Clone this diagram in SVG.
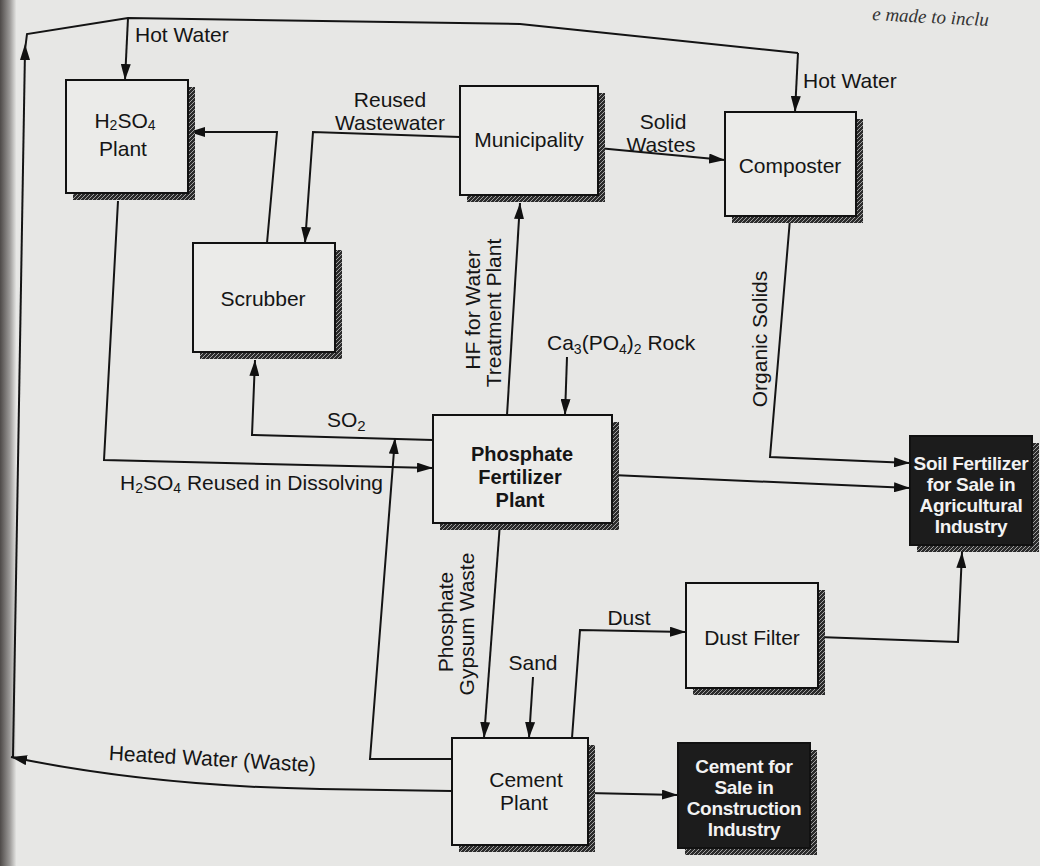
<svg xmlns="http://www.w3.org/2000/svg" width="1040" height="866" viewBox="0 0 1040 866">
<defs>
<style>
.t{font-family:"Liberation Sans",Arial,sans-serif;font-size:21px;fill:#151515}
.b{font-family:"Liberation Sans",Arial,sans-serif;font-size:20px;font-weight:bold;fill:#151515}
.w{font-family:"Liberation Sans",Arial,sans-serif;font-size:19px;font-weight:bold;fill:#f2f2f2;letter-spacing:-0.3px}
.box{fill:#ebebe9;stroke:#111;stroke-width:2}
.dark{fill:#1c1c1c;stroke:#111;stroke-width:2}
.sh{fill:url(#hatch)}
.ln{fill:none;stroke:#141414;stroke-width:2;stroke-linejoin:miter}
.ar{marker-end:url(#ah)}
</style>
<pattern id="hatch" width="4" height="4" patternUnits="userSpaceOnUse">
<rect width="4" height="4" fill="#2b2b2b"/>
<path d="M0,4 L4,0" stroke="#a0a0a0" stroke-width="1"/>
</pattern>
<marker id="ah" viewBox="0 0 16 10" refX="16" refY="5" markerWidth="16" markerHeight="10" markerUnits="userSpaceOnUse" orient="auto">
<path d="M0,0 L16,5 L0,10 z" fill="#111"/>
</marker>
<linearGradient id="gut" x1="0" y1="0" x2="1" y2="0">
<stop offset="0" stop-color="#4e4a48"/>
<stop offset="0.6" stop-color="#9a9896"/>
<stop offset="1" stop-color="#e2e2e0"/>
</linearGradient>
</defs>
<rect width="1040" height="866" fill="#e7e7e5"/>
<rect x="0" y="0" width="16" height="866" fill="url(#gut)"/>
<text x="872" y="20" transform="rotate(3 872 20)" style="font-family:'Liberation Serif',serif;font-style:italic;font-size:19px;fill:#333">e made to inclu</text>

<g id="connectors">
<path class="ln" d="M13,757 L25,50"/>
<path d="M25,44 L20,60 L30,60 z" fill="#111"/>
<path class="ln" d="M25,50 L27,34 L128,18 L520,24 L798,53"/>
<path class="ln ar" d="M128,18 L125,80"/>
<path class="ln ar" d="M798,53 L795,112"/>
<path class="ln ar" d="M267,243 L277,132 L189,132"/>
<path class="ln ar" d="M460,137 L313,132 L305,243"/>
<path class="ln ar" d="M598,148 L725,160"/>
<path class="ln ar" d="M790,219 L770,457 L910,463"/>
<path class="ln ar" d="M507,415 L520,203"/>
<path class="ln ar" d="M567,357 L565,415"/>
<path class="ln ar" d="M433,440 L252,435 L255,360"/>
<path class="ln ar" d="M118,201 L104,460 L433,468"/>
<path class="ln ar" d="M612,475 L910,488"/>
<path class="ln ar" d="M500,523 L484,738"/>
<path class="ln ar" d="M452,759 L370,759 L395,438"/>
<path class="ln ar" d="M533,677 L529,738"/>
<path class="ln ar" d="M572,738 L580,630 L686,632"/>
<path class="ln ar" d="M818,637 L958,642 L962,552"/>
<path class="ln ar" d="M588,793 L678,795"/>
<path class="ln ar" d="M452,791 L320,789 Q150,786 11,757"/>
</g>

<g id="labels">
<text class="t" x="135" y="42">Hot Water</text>
<text class="t" x="803" y="88">Hot Water</text>
<text class="t" x="390" y="107" text-anchor="middle">Reused</text>
<text class="t" x="390" y="130" text-anchor="middle">Wastewater</text>
<text class="t" x="663" y="129" text-anchor="middle">Solid</text>
<text class="t" x="661" y="152" text-anchor="middle">Wastes</text>
<text class="t" transform="translate(480,310) rotate(-90)" text-anchor="middle">HF for Water</text>
<text class="t" transform="translate(501,313) rotate(-90)" text-anchor="middle">Treatment Plant</text>
<text class="t" transform="translate(767,339) rotate(-90)" text-anchor="middle">Organic Solids</text>
<text class="t" x="547" y="350">Ca<tspan font-size="14" dy="4">3</tspan><tspan dy="-4">(PO</tspan><tspan font-size="14" dy="4">4</tspan><tspan dy="-4">)</tspan><tspan font-size="14" dy="4">2</tspan><tspan dy="-4"> Rock</tspan></text>
<text class="t" x="327" y="427">SO<tspan font-size="15" dy="4">2</tspan></text>
<text class="t" x="120" y="490">H<tspan font-size="14" dy="3">2</tspan><tspan dy="-3">SO</tspan><tspan font-size="14" dy="3">4</tspan><tspan dy="-3"> Reused in Dissolving</tspan></text>
<text class="t" transform="translate(453,622) rotate(-90)" text-anchor="middle">Phosphate</text>
<text class="t" transform="translate(474,624) rotate(-90)" text-anchor="middle">Gypsum Waste</text>
<text class="t" x="533" y="670" text-anchor="middle">Sand</text>
<text class="t" x="629" y="625" text-anchor="middle">Dust</text>
<text class="t" x="108" y="766" transform="rotate(3.3 212 770)">Heated Water (Waste)</text>
</g>

<g id="h2so4-plant">
<rect class="sh" x="73" y="87" width="122" height="113"/>
<rect class="box" x="66" y="80" width="122" height="113"/>
<text class="t" x="125" y="128" text-anchor="middle">H<tspan font-size="14" dy="2">2</tspan><tspan dy="-2">SO</tspan><tspan font-size="14" dy="2">4</tspan></text>
<text class="t" x="123" y="156" text-anchor="middle">Plant</text>
</g>

<g id="municipality">
<rect class="sh" x="467" y="93" width="138" height="109"/>
<rect class="box" x="460" y="86" width="138" height="109"/>
<text class="t" x="529" y="147" text-anchor="middle">Municipality</text>
</g>

<g id="composter">
<rect class="sh" x="732" y="119" width="131" height="104"/>
<rect class="box" x="725" y="112" width="131" height="104"/>
<text class="t" x="790" y="173" text-anchor="middle">Composter</text>
</g>

<g id="scrubber">
<rect class="sh" x="200" y="250" width="142" height="109"/>
<rect class="box" x="193" y="243" width="142" height="109"/>
<text class="t" x="263" y="306" text-anchor="middle">Scrubber</text>
</g>

<g id="phosphate-fertilizer-plant">
<rect class="sh" x="440" y="422" width="179" height="108"/>
<rect class="box" x="433" y="415" width="179" height="108"/>
<text class="b" x="522" y="461" text-anchor="middle">Phosphate</text>
<text class="b" x="520" y="484" text-anchor="middle">Fertilizer</text>
<text class="b" x="520" y="507" text-anchor="middle">Plant</text>
</g>

<g id="soil-fertilizer">
<rect class="sh" x="917" y="443" width="122" height="109"/>
<rect class="dark" x="910" y="436" width="122" height="109"/>
<text class="w" x="971" y="470" text-anchor="middle">Soil Fertilizer</text>
<text class="w" x="971" y="491" text-anchor="middle">for Sale in</text>
<text class="w" x="971" y="512" text-anchor="middle">Agricultural</text>
<text class="w" x="971" y="533" text-anchor="middle">Industry</text>
</g>

<g id="dust-filter">
<rect class="sh" x="693" y="590" width="132" height="105"/>
<rect class="box" x="686" y="583" width="132" height="105"/>
<text class="t" x="752" y="645" text-anchor="middle">Dust Filter</text>
</g>

<g id="cement-plant">
<rect class="sh" x="459" y="745" width="136" height="107"/>
<rect class="box" x="452" y="738" width="136" height="107"/>
<text class="t" x="526" y="787" text-anchor="middle">Cement</text>
<text class="t" x="524" y="810" text-anchor="middle">Plant</text>
</g>

<g id="cement-for-sale">
<rect class="sh" x="685" y="750" width="132" height="105"/>
<rect class="dark" x="678" y="743" width="132" height="105"/>
<text class="w" x="744" y="773" text-anchor="middle">Cement for</text>
<text class="w" x="744" y="794" text-anchor="middle">Sale in</text>
<text class="w" x="744" y="815" text-anchor="middle">Construction</text>
<text class="w" x="744" y="836" text-anchor="middle">Industry</text>
</g>
</svg>
